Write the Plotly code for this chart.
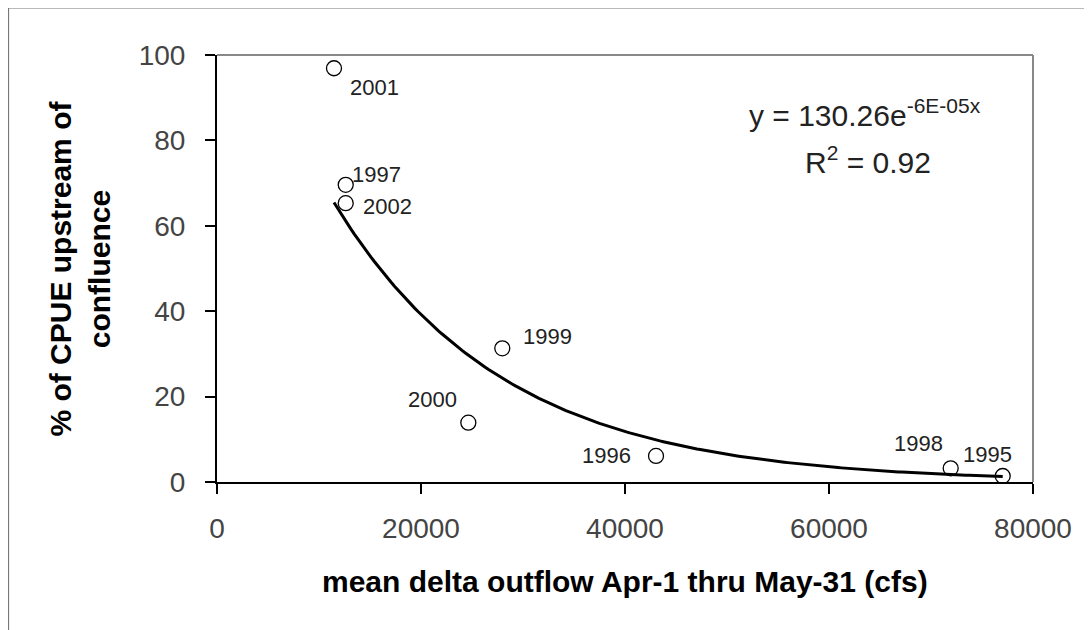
import numpy as np
import plotly.graph_objects as go

# ---- data ----
years = ["1995", "1996", "1997", "1998", "1999", "2000", "2001", "2002"]
outflow_cfs = [77030, 43040, 12620, 71930, 27970, 24640, 11470, 12620]
cpue_upstream_pct = [1.4, 6.1, 69.6, 3.2, 31.3, 13.9, 96.9, 65.3]

fit_a = 130.26
fit_b = -6e-05
fit_r2 = 0.92

x_ticks = [0, 20000, 40000, 60000, 80000]
y_ticks = [0, 20, 40, 60, 80, 100]

# label offsets (pixels) for each year label
label_shift = {
    "1995": (-15, 22), "1996": (-50, 0), "1997": (31, 10), "1998": (-32, 25),
    "1999": (45, 12), "2000": (-36, 23), "2001": (41, -19), "2002": (42, -3),
}

FONT = "Liberation Sans, Arial, sans-serif"

trend_x = np.linspace(min(outflow_cfs), max(outflow_cfs), 200)
trend_y = fit_a * np.exp(fit_b * trend_x)

fig = go.Figure()
fig.add_trace(go.Scatter(x=trend_x, y=trend_y, mode="lines",
                         line=dict(color="black", width=3), hoverinfo="skip"))
fig.add_trace(go.Scatter(x=outflow_cfs, y=cpue_upstream_pct, mode="markers",
                         marker=dict(symbol="circle-open", size=15, color="black",
                                     line=dict(width=1.3, color="black")),
                         text=years))

for yr, xv, yv in zip(years, outflow_cfs, cpue_upstream_pct):
    dx, dy = label_shift[yr]
    fig.add_annotation(x=xv, y=yv, text=yr, showarrow=False,
                       xshift=dx, yshift=dy,
                       font=dict(family=FONT, size=22, color="#222"))

# equation
fig.add_annotation(xref="paper", yref="paper", x=0.6495, y=0.864,
                   xanchor="left", yanchor="middle", showarrow=False,
                   text="y = 130.26e<sup>-6E-05x</sup>",
                   font=dict(family=FONT, size=30, color="#222"))
fig.add_annotation(xref="paper", yref="paper", x=0.718, y=0.754,
                   xanchor="left", yanchor="middle", showarrow=False,
                   text=f"R<sup>2</sup> = {fit_r2}",
                   font=dict(family=FONT, size=30, color="#222"))

# axis titles
fig.add_annotation(xref="paper", yref="paper", x=0.5, y=-0.234,
                   xanchor="center", yanchor="middle", showarrow=False,
                   text="<b>mean delta outflow Apr-1 thru May-31 (cfs)</b>",
                   font=dict(family=FONT, size=30, color="black"))
fig.add_annotation(xref="paper", yref="paper", x=-0.169, y=0.5,
                   xanchor="center", yanchor="middle", showarrow=False,
                   textangle=-90,
                   text="<b>% of CPUE upstream of<br>confluence</b>",
                   font=dict(family=FONT, size=30, color="black"))

# plot-area top/right gray border
fig.add_shape(type="line", xref="paper", yref="paper", x0=0, x1=1, y0=1, y1=1,
              line=dict(color="#888", width=2))
fig.add_shape(type="line", xref="paper", yref="paper", x0=1, x1=1, y0=0, y1=1,
              line=dict(color="#888", width=2))
# outer frame (left and top)
fig.add_shape(type="line", xref="paper", yref="paper", x0=-0.256, x1=1.09, y0=1.111, y1=1.111,
              line=dict(color="#777", width=2))
fig.add_shape(type="line", xref="paper", yref="paper", x0=-0.256, x1=-0.256, y0=1.111, y1=-0.37,
              line=dict(color="#777", width=2))

fig.update_layout(
    width=1092, height=630,
    margin=dict(l=209, r=67, t=47, b=156),
    paper_bgcolor="white", plot_bgcolor="white",
    showlegend=False,
    font=dict(family=FONT, color="#333"),
)
fig.update_xaxes(range=[0, 80000], tickvals=x_ticks, ticktext=[str(v) for v in x_ticks],
                 showgrid=False, zeroline=False, showline=True, linecolor="black", linewidth=2,
                 ticks="outside", ticklen=10, tickwidth=2, tickcolor="black",
                 tickfont=dict(family=FONT, size=28, color="#444"), ticklabelstandoff=10)
fig.update_yaxes(range=[0, 100], tickvals=y_ticks,
                 showgrid=False, zeroline=False, showline=True, linecolor="black", linewidth=2,
                 ticks="outside", ticklen=10, tickwidth=2, tickcolor="black",
                 tickfont=dict(family=FONT, size=28, color="#444"), ticklabelstandoff=14)

fig.write_html("out.html")
